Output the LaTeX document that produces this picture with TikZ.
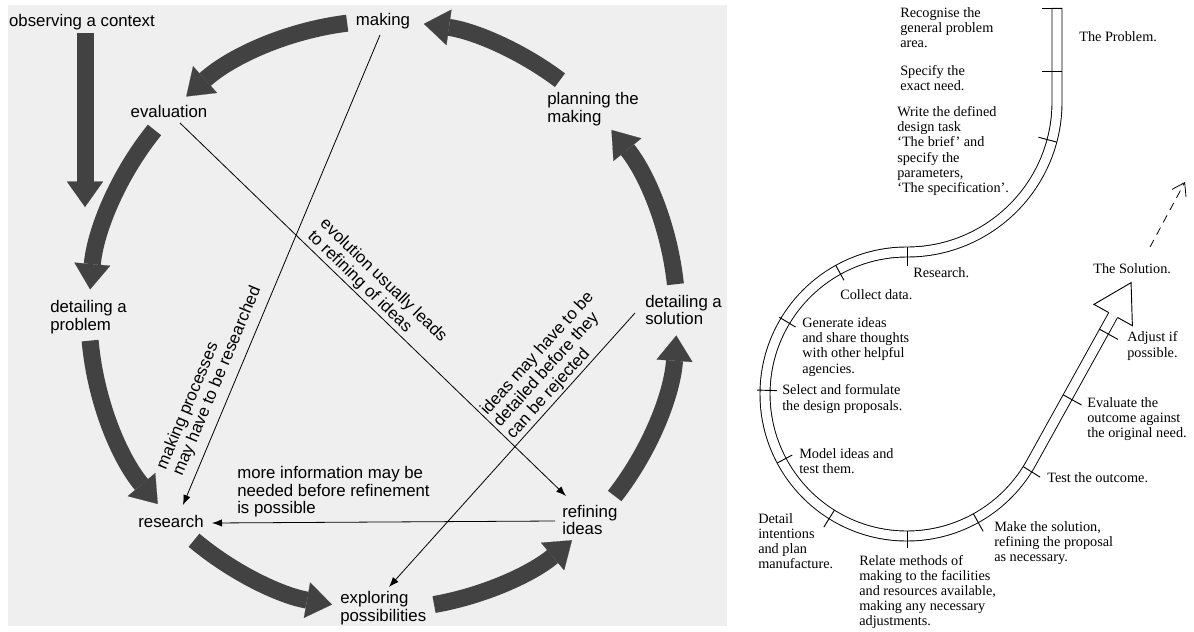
\documentclass[tikz,border=0pt]{standalone}
\usepackage{fontspec}
\setmainfont{Liberation Serif}
\newfontfamily\sansf{Liberation Sans}
\usetikzlibrary{arrows.meta,calc}
\definecolor{arrowgrey}{HTML}{424242}
\definecolor{panelgrey}{HTML}{EFEFEF}
\begin{document}
\begin{tikzpicture}[x=0.75pt,y=0.75pt,
  slab/.style={font=\sansf\fontsize{12.6}{13.2}\selectfont, inner sep=0pt, align=left},
  rlab/.style={font=\fontsize{10.7}{11.3}\selectfont, inner sep=0pt, align=left, anchor=west},
  fat/.style={line width=12.75pt, draw=arrowgrey, -{Triangle[width=27pt,length=19pt,line width=0.1pt]}},
  circ/.style={bend right=#1, looseness=0.87},
  thinarrow/.style={line width=0.6pt, -{Latex[length=7.5pt,width=5.5pt]}},
  band/.style={double, line width=0.7pt, double distance=6.8pt},
  tick/.style={line width=0.7pt},
]
\fill[white] (0,0) rectangle (1194,-631);
\useasboundingbox (0,0) rectangle (1194,-631);
\fill[panelgrey] (8,-5) rectangle (727,-626);

% ---------- left panel: labels ----------
\node[slab] (obs) at (82,-22) {observing a context};
\node[slab] (making) at (383,-21) {making};
\node[slab] (evaluation) at (169,-111) {evaluation};
\node[slab, anchor=west] (planning) at (547,-109) {planning the\\making};
\node[slab, anchor=west] (detprob) at (50,-317) {detailing a\\problem};
\node[slab, anchor=west] (detsol) at (645,-310) {detailing a\\solution};
\node[slab] (research) at (171,-521) {research};
\node[slab, anchor=west] (refining) at (562,-520) {refining\\ideas};
\node[slab, anchor=west] (exploring) at (340,-608) {exploring\\possibilities};

% ---------- left panel: cycle arrows ----------
\coordinate (O) at (383,-315);
\foreach \n/\a in {m1/97, e1/132, e2/141, p1/175, p2/185, r1/220, r2/230, x1/260, x2/280, f1/310, f2/322, s1/356, s2/6, n1/39, n2/53, m2/82}
  \coordinate (\n) at ($(O)+(\a:294)$);
\draw[fat, circ=17.5] (m1) to (e1);
\draw[fat, circ=17] (e2) to (p1);
\draw[fat, circ=17.5] (p2) to (r1);
\draw[fat, circ=15] (r2) to (x1);
\draw[fat, circ=15] (x2) to (f1);
\draw[fat, circ=17] (f2) to (s1);
\draw[fat, circ=16.5] (s2) to (n1);
\draw[fat, circ=14.5] (n2) to (m2);
\coordinate (o1) at (85,-33);
\coordinate (o2) at (85,-207);
\draw[fat] (o1) -- (o2);

% ---------- left panel: thin arrows ----------
\coordinate (ta1) at (380,-35);  \coordinate (ta2) at (183,-505);
\coordinate (tb1) at (180,-123); \coordinate (tb2) at (566,-496);
\coordinate (tc1) at (635,-313); \coordinate (tc2) at (389,-587);
\coordinate (td1) at (555,-521); \coordinate (td2) at (212,-523);
\draw[thinarrow] (ta1) -- (ta2);
\draw[thinarrow] (tb1) -- (tb2);
\draw[thinarrow] (tc1) -- (tc2);
\draw[thinarrow] (td1) -- (td2);
\node[slab, rotate=67.3, anchor=west] (la) at (170,-472) {making processes\\may have to be researched};
\node[slab, rotate=-44, anchor=west] (lb) at (316,-228) {evolution usually leads\\to refining of ideas};
\node[slab, rotate=48, anchor=west] (lc) at (497,-425) {ideas may have to be\\detailed before they\\can be rejected};
\node[slab, anchor=west] (ld) at (237,-492) {more information may be\\needed before refinement\\is possible};

% ---------- right panel: band ----------
\coordinate (O1) at (907,-102);
\coordinate (O2) at (907,-394);
\coordinate (btop) at (1057,-8);
\coordinate (P0) at ($(O2)+(331:142)$);
\coordinate (hb) at ($(P0)+(61:169)$);
\draw[band] (btop) -- (1057,-102) arc[start angle=0, end angle=-90, radius=150]
  arc[start angle=90, end angle=331, radius=142] -- (hb);
\draw[tick, fill=white] ($(hb)+(151:5)$) -- ($(hb)+(151:22)$) -- ($(hb)+(61:37)$)
  -- ($(hb)+(-29:22)$) -- ($(hb)+(-29:5)$);
\foreach \a/\ri/\ro in {90/147/128, 119/147/130, 149/149/130, 178.5/150/130, 208/147/130, 238/137/157, 270/137/154, 299/137/157, 328/137/157}
  \draw[tick] ($(O2)+(\a:\ri)$) -- ($(O2)+(\a:\ro)$);
\draw[tick] ($(O1)+(-15:155)$) -- ($(O1)+(-15:136)$);
\draw[tick] (1062,-8) -- (1042,-8);
\draw[tick] (1062,-71) -- (1042,-71);
\foreach \s in {75,150}
  \draw[tick] ($(P0)+(61:\s)+(151:5)$) -- ($(P0)+(61:\s)+(-29:16)$);
\coordinate (ds) at (1150,-247);
\coordinate (de) at (1185,-182);
\draw[line width=0.6pt, dash pattern=on 6pt off 4.5pt, -{Straight Barb[length=9pt,width=12pt]}] (ds) -- (de);

% ---------- right panel: labels ----------
\node[rlab] (rec) at (900,-28) {Recognise the\\general problem\\area.};
\node[rlab] (spec) at (900,-78) {Specify the\\exact need.};
\node[rlab] (write) at (897,-151) {Write the defined\\design task\\‘The brief’ and\\specify the\\parameters,\\‘The specification’.};
\node[rlab] (prob) at (1079,-37) {The Problem.};
\node[rlab] (res) at (913,-273) {Research.};
\node[rlab] (coll) at (840,-295) {Collect data.};
\node[rlab] (sol) at (1093,-269) {The Solution.};
\node[rlab] (gen) at (802,-347) {Generate ideas\\and share thoughts\\with other helpful\\agencies.};
\node[rlab] (sel) at (782,-399) {Select and formulate\\the design proposals.};
\node[rlab] (adj) at (1127,-346) {Adjust if\\possible.};
\node[rlab] (eval) at (1087,-419) {Evaluate the\\outcome against\\the original need.};
\node[rlab] (model) at (799,-461) {Model ideas and\\test them.};
\node[rlab] (test) at (1047,-478) {Test the outcome.};
\node[rlab] (detail) at (758,-541) {Detail\\intentions\\and plan\\manufacture.};
\node[rlab] (relate) at (859,-592) {Relate methods of\\making to the facilities\\and resources available,\\making any necessary\\adjustments.};
\node[rlab] (make) at (994,-543) {Make the solution,\\refining the proposal\\as necessary.};
\end{tikzpicture}
\end{document}
